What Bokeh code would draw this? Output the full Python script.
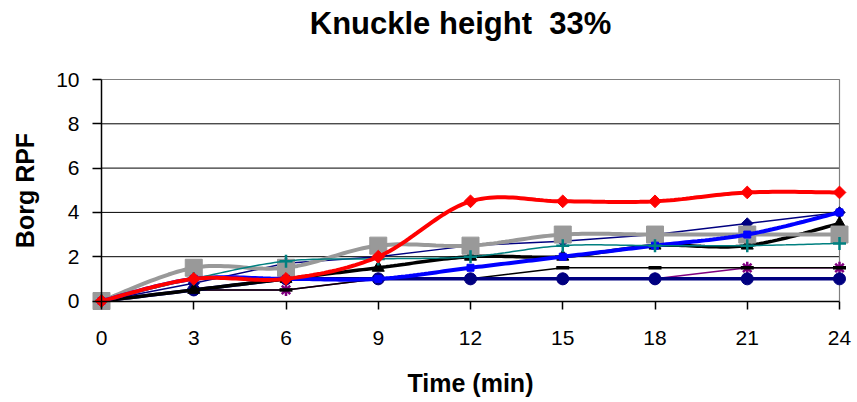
import numpy as np
from bokeh.plotting import figure
from bokeh.models import FixedTicker, Range1d, ColumnDataSource, Label
from bokeh.embed import file_html
from bokeh.resources import INLINE

# Time points (minutes) and Borg RPF ratings per series
minutes = [0, 3, 6, 9, 12, 15, 18, 21, 24]
navy_diamond = [0, 0.8, 1.7, 2.0, 2.5, 2.7, 3.0, 3.5, 4.0]
purple_star = [0, 0.5, 0.5, 1.0, 1.0, 1.0, 1.0, 1.5, 1.5]
black_dash = [0, 0.5, 0.5, 1.0, 1.0, 1.5, 1.5, 1.5, 1.5]
navy_circle = [0, 0.5, 1.0, 1.0, 1.0, 1.0, 1.0, 1.0, 1.0]
black_triangle = [0, 0.5, 1.0, 1.5, 2.0, 2.0, 2.5, 2.5, 3.5]
gray_square = [0, 1.5, 1.5, 2.5, 2.5, 3.0, 3.0, 3.0, 3.0]
blue_bar = [0, 1.0, 1.0, 1.0, 1.5, 2.0, 2.5, 3.0, 4.0]
teal_plus = [0, 1.0, 1.8, 1.9, 2.0, 2.5, 2.5, 2.5, 2.6]
red_diamond = [0, 1.0, 1.0, 2.0, 4.5, 4.5, 4.5, 4.9, 4.9]

y_ticks = [0, 2, 4, 6, 8, 10]
x_ticks = minutes
grid_levels = [2, 4, 6, 8]

FONT = "Liberation Sans"
X0, X1 = x_ticks[0], x_ticks[-1]
Y0, Y1 = y_ticks[0], y_ticks[-1]

W, H = 857, 402
# pixel placement of the plot area inside the canvas
AREA_L, AREA_R, AREA_T, AREA_B = 101, 839, 79, 300.5
PX_X = (AREA_R - AREA_L) / (X1 - X0)
PX_Y = (AREA_B - AREA_T) / (Y1 - Y0)


def sx(px):
    """canvas x pixel -> data x"""
    return X0 + (px - AREA_L) / PX_X


def sy(py):
    """canvas y pixel (from top) -> data y"""
    return Y0 + (AREA_B - py) / PX_Y


def smooth(xs, ys, n=24):
    """Bezier curve through the points (spreadsheet-style smoothed line)."""
    xs = np.asarray(xs, float)
    ys = np.asarray(ys, float)
    px = np.concatenate([[xs[0]], xs, [xs[-1]]])
    py = np.concatenate([[ys[0]], ys, [ys[-1]]])
    out_x, out_y = [], []
    t = np.linspace(0, 1, n, endpoint=False)
    for i in range(1, len(px) - 2):
        p0x, p1x, p2x, p3x = px[i - 1:i + 3]
        p0y, p1y, p2y, p3y = py[i - 1:i + 3]
        c1x, c1y = p1x + (p2x - p0x) / 6, p1y + (p2y - p0y) / 6
        c2x, c2y = p2x - (p3x - p1x) / 6, p2y - (p3y - p1y) / 6
        bx = (1 - t) ** 3 * p1x + 3 * (1 - t) ** 2 * t * c1x + 3 * (1 - t) * t ** 2 * c2x + t ** 3 * p2x
        by = (1 - t) ** 3 * p1y + 3 * (1 - t) ** 2 * t * c1y + 3 * (1 - t) * t ** 2 * c2y + t ** 3 * p2y
        out_x.extend(bx)
        out_y.extend(by)
    out_x.append(xs[-1])
    out_y.append(ys[-1])
    return out_x, out_y


# the data frame spans the whole canvas so edge markers and texts are not cut
p = figure(
    width=W, height=H,
    x_range=Range1d(sx(0), sx(W)),
    y_range=Range1d(sy(H), sy(0)),
    output_backend="svg", toolbar_location=None,
    min_border_left=0, min_border_right=0,
    min_border_top=0, min_border_bottom=0,
)
p.title.visible = False
p.background_fill_color = "white"
p.border_fill_color = "white"
p.outline_line_color = None
p.grid.visible = False

# horizontal gridlines and the grey plot-area border (top and right)
p.segment(x0=[X0] * len(grid_levels), x1=[X1] * len(grid_levels),
          y0=grid_levels, y1=grid_levels, line_color="black", line_width=1)
p.line([X0, X1, X1], [Y1, Y1, Y0], line_color="#808080", line_width=1.2)

p.xaxis.ticker = FixedTicker(ticks=x_ticks)
p.yaxis.ticker = FixedTicker(ticks=y_ticks)
p.xaxis.fixed_location = Y0
p.yaxis.fixed_location = X0
p.xaxis.bounds = (X0, X1)
p.yaxis.bounds = (Y0, Y1)
for ax in (p.xaxis[0], p.yaxis[0]):
    ax.axis_line_color = "black"
    ax.axis_line_width = 1.5
    ax.major_tick_line_color = "black"
    ax.major_tick_line_width = 1.5
    ax.minor_tick_line_color = None
    ax.major_tick_in = 0
    ax.major_label_text_font = FONT
    ax.major_label_text_font_size = "21px"
    ax.major_label_text_color = "black"
p.xaxis.major_tick_out = 8
p.yaxis.major_tick_out = 9
p.xaxis.major_label_standoff = 22
p.yaxis.major_label_standoff = 13

# series: (values, line colour, line width, smoothed, marker, marker size, marker colour, angle)
series = [
    (navy_diamond, "#000080", 1.5, False, "square", 8, "#000080", np.pi / 4),
    (purple_star, "#800080", 1.5, False, "asterisk", 12, "#800080", 0),
    (black_dash, "black", 1.5, False, "dash", 13, "black", 0),
    (navy_circle, "#000080", 3.5, False, "circle", 12, "#000080", 0),
    (black_triangle, "black", 3.5, True, "triangle", 12, "black", 0),
    (gray_square, "#999999", 4, True, "square", 17, "#999999", 0),
    (blue_bar, "#0000FF", 4, True, "square", 7, "#0000FF", 0),
    (teal_plus, "#008080", 1.5, True, "cross", 13, "#008080", 0),
    (red_diamond, "#FF0000", 4, True, "square", 9, "#FF0000", np.pi / 4),
]

for vals, lc, lw, sm, marker, ms, mc, ang in series:
    if sm:
        lx, ly = smooth(minutes, vals)
    else:
        lx, ly = minutes, vals
    p.line(lx, ly, line_color=lc, line_width=lw)
    src = ColumnDataSource(dict(x=minutes, y=vals))
    if marker in ("asterisk", "cross", "dash"):
        p.scatter("x", "y", source=src, marker=marker, size=ms,
                  line_color=mc, line_width=2.5 if marker != "dash" else 3.5)
    else:
        p.scatter("x", "y", source=src, marker=marker, size=ms, angle=ang,
                  fill_color=mc, line_color=mc, line_width=1)

# chart title and axis titles
p.add_layout(Label(x=sx(460), y=sy(23), text="Knuckle height\u00a0 33%",
                   text_align="center", text_baseline="middle", text_font=FONT,
                   text_font_size="31px", text_font_style="bold", text_color="black"))
p.add_layout(Label(x=sx(470), y=sy(382), text="Time (min)",
                   text_align="center", text_baseline="middle", text_font=FONT,
                   text_font_size="25px", text_font_style="bold", text_color="black"))
p.add_layout(Label(x=sx(24), y=sy(190), text="Borg RPF", angle=np.pi / 2,
                   text_align="center", text_baseline="middle", text_font=FONT,
                   text_font_size="25px", text_font_style="bold", text_color="black"))

open("out.html", "w").write(file_html(p, INLINE))
